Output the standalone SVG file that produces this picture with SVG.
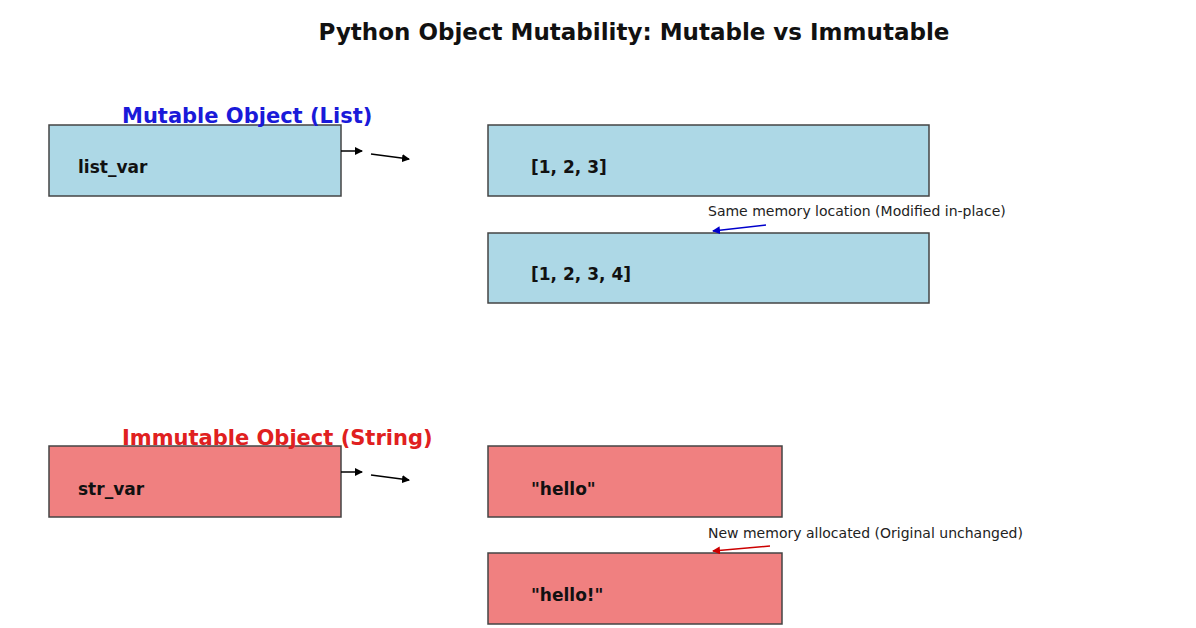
<svg xmlns="http://www.w3.org/2000/svg" width="1196" height="628" viewBox="0 0 1196 628">
<style>
text{font-family:"DejaVu Sans",sans-serif}
.b{stroke:#444;stroke-width:1.5}
.m{fill:#add8e6}.i{fill:#f08080}
.t{font-weight:bold;font-size:17px;fill:#111}
.n{font-size:14px;fill:#222}
.k{stroke:#000;stroke-width:1.5;fill:none}
</style>
<defs>
<marker id="a" markerWidth="8" markerHeight="8" refX="7" refY="4" orient="auto" markerUnits="userSpaceOnUse"><path d="M0,0L8,4L0,8z" fill="#000"/></marker>
<marker id="ab" markerWidth="8" markerHeight="8" refX="7" refY="4" orient="auto" markerUnits="userSpaceOnUse"><path d="M0,0L8,4L0,8z" fill="#0000cc"/></marker>
<marker id="ar" markerWidth="8" markerHeight="8" refX="7" refY="4" orient="auto" markerUnits="userSpaceOnUse"><path d="M0,0L8,4L0,8z" fill="#cc0000"/></marker>
</defs>
<rect width="1196" height="628" fill="#fff"/>
<text x="634" y="40" text-anchor="middle" font-size="23" font-weight="bold" fill="#111">Python Object Mutability: Mutable vs Immutable</text>
<g id="list_var"><rect class="b m" x="49" y="125" width="292" height="71"/><text class="t" x="78" y="173">list_var</text></g>
<g id="list1"><rect class="b m" x="488" y="125" width="441" height="71"/><text class="t" x="531" y="173">[1, 2, 3]</text></g>
<g id="list2"><rect class="b m" x="488" y="233" width="441" height="70"/><text class="t" x="531" y="280">[1, 2, 3, 4]</text></g>
<g id="str_var"><rect class="b i" x="49" y="446" width="292" height="71"/><text class="t" x="78" y="495">str_var</text></g>
<g id="str1"><rect class="b i" x="488" y="446" width="294" height="71"/><text class="t" x="531" y="495">"hello"</text></g>
<g id="str2"><rect class="b i" x="488" y="553" width="294" height="71"/><text class="t" x="531" y="601">"hello!"</text></g>
<text x="122" y="123" font-size="21" font-weight="bold" fill="#1a1ad9">Mutable Object (List)</text>
<text x="122" y="445" font-size="21" font-weight="bold" fill="#e02020">Immutable Object (String)</text>
<text class="n" x="708" y="216">Same memory location (Modified in-place)</text>
<text class="n" x="708" y="538">New memory allocated (Original unchanged)</text>
<g id="connectors">
<line class="k" x1="341" y1="151" x2="362" y2="151" marker-end="url(#a)"/>
<line class="k" x1="371" y1="154" x2="409" y2="159" marker-end="url(#a)"/>
<line class="k" x1="341" y1="472" x2="362" y2="472" marker-end="url(#a)"/>
<line class="k" x1="371" y1="475" x2="409" y2="480" marker-end="url(#a)"/>
<line x1="766" y1="225" x2="713" y2="231" stroke="#0000cc" stroke-width="1.5" marker-end="url(#ab)"/>
<line x1="770" y1="546" x2="713" y2="551" stroke="#cc0000" stroke-width="1.5" marker-end="url(#ar)"/>
</g>
</svg>
